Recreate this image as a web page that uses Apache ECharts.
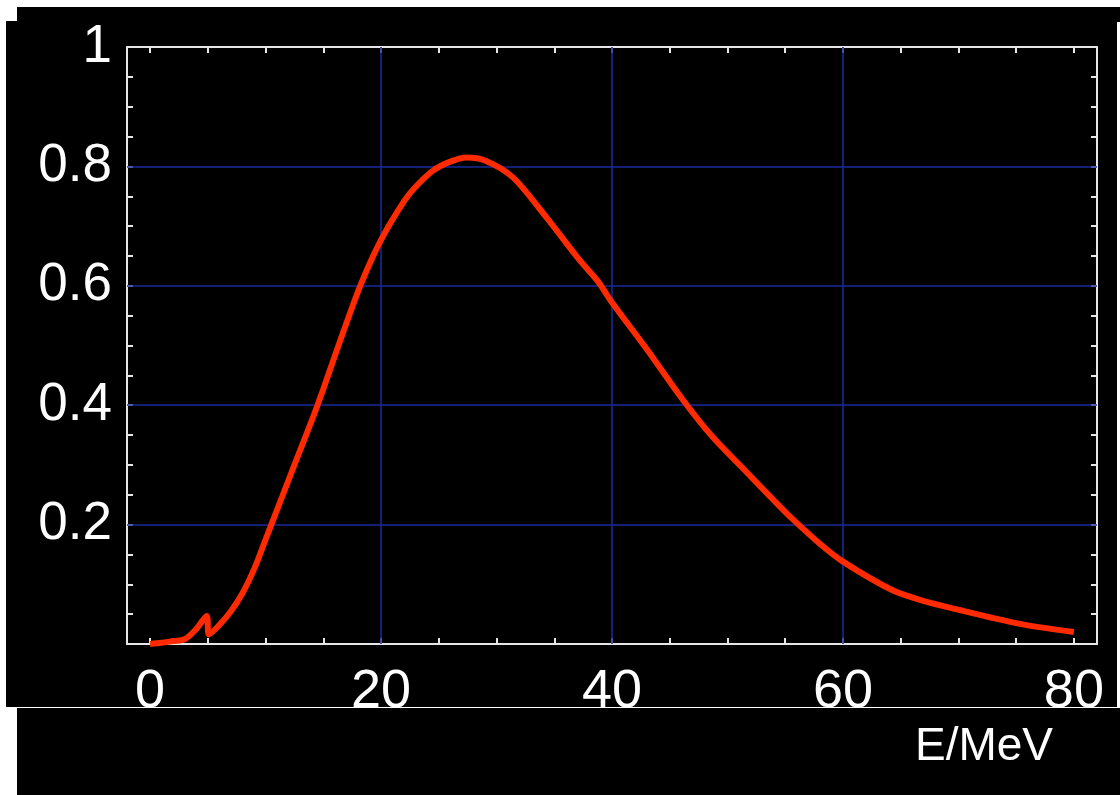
<!DOCTYPE html>
<html>
<head>
<meta charset="utf-8">
<script src="https://cdn.jsdelivr.net/npm/echarts@6/dist/echarts.min.js"></script>
<style>
html,body{margin:0;padding:0;background:#fff;}
#c{width:1120px;height:795px;}
</style>
</head>
<body>
<div id="c"></div>
<script>
// Data
var energy = [0, 1, 2, 3, 4, 4.9, 5.1, 6, 7, 8, 9, 10, 10.5, 12.5, 14.5, 16.5, 18.2, 20, 22, 23, 24.5, 26, 27.4, 29, 31.4, 34.3, 37.2, 38.8, 40, 43, 46.1, 48.7, 51.6, 54.5, 55.6, 58, 60, 64.3, 67.2, 70.1, 72.9, 75.8, 80];
var flux = [0, 0.002, 0.005, 0.008, 0.025, 0.047, 0.016, 0.032, 0.055, 0.085, 0.125, 0.175, 0.2, 0.3, 0.4, 0.51, 0.6, 0.677, 0.742, 0.766, 0.793, 0.808, 0.815, 0.81, 0.782, 0.715, 0.643, 0.607, 0.572, 0.494, 0.41, 0.347, 0.289, 0.231, 0.21, 0.168, 0.138, 0.09, 0.071, 0.057, 0.044, 0.032, 0.02];
var xTickValues = [0, 5, 10, 15, 20, 25, 30, 35, 40, 45, 50, 55, 60, 65, 70, 75, 80];
var xLabelValues = [0, 20, 40, 60, 80];
var yLabelValues = [0.2, 0.4, 0.6, 0.8, 1];
var xGridValues = [20, 40, 60];
var yGridValues = [0.2, 0.4, 0.6, 0.8];
var xTitle = 'E/MeV';

var FONT = '"Liberation Sans", Arial, sans-serif';
var frameColor = '#e6e6e6';
var gridColor = '#1a2a98';

var chart = echarts.init(document.getElementById('c'), null, {renderer: 'canvas'});

var pairs = energy.map(function (e, i) { return [e, flux[i]]; });

var markData = [];
xGridValues.forEach(function (v) { markData.push({xAxis: v}); });
yGridValues.forEach(function (v) { markData.push({yAxis: v}); });

function xAxisBase(pos, showLabel) {
  return {
    type: 'value', position: pos, min: -2, max: 82,
    axisLine: {show: true, onZero: false, lineStyle: {color: frameColor, width: 2}},
    axisTick: {show: true, inside: true, length: 6, customValues: xTickValues, lineStyle: {color: frameColor, width: 2}},
    axisLabel: {show: showLabel, customValues: xLabelValues, color: '#fff', fontFamily: FONT, fontSize: 54, margin: 21},
    splitLine: {show: false}
  };
}
function yAxisBase(pos, showLabel) {
  return {
    type: 'value', position: pos, min: 0, max: 1, interval: 0.05,
    axisLine: {show: true, onZero: false, lineStyle: {color: frameColor, width: 2}},
    axisTick: {show: true, inside: true, length: 6, lineStyle: {color: frameColor, width: 2}},
    axisLabel: {show: showLabel, customValues: yLabelValues, color: '#fff', fontFamily: FONT, fontSize: 53, margin: 15,
      formatter: function (v) { return String(Math.round(v * 10) / 10); }},
    splitLine: {show: false}
  };
}

chart.setOption({
  backgroundColor: '#ffffff',
  animation: false,
  grid: {left: 127, right: 23, top: 47, bottom: 151, containLabel: false},
  xAxis: [xAxisBase('bottom', true), xAxisBase('top', false)],
  yAxis: [yAxisBase('left', true), yAxisBase('right', false)],
  graphic: {
    elements: [
      {type: 'rect', z: -100, shape: {x: 17, y: 7, width: 1103, height: 15}, style: {fill: '#000'}},
      {type: 'rect', z: -100, shape: {x: 6, y: 21, width: 1111, height: 686}, style: {fill: '#000'}},
      {type: 'rect', z: 100, shape: {x: 17, y: 708, width: 1103, height: 87}, style: {fill: '#000'}},
      {type: 'text', z: 101, left: 915, top: 724, style: {text: xTitle, fill: '#fff', font: '46px ' + FONT}}
    ]
  },
  series: [
    {
      type: 'line', data: [], xAxisIndex: 0, yAxisIndex: 0, z: 1, silent: true,
      markLine: {
        silent: true, symbol: ['none', 'none'], label: {show: false},
        lineStyle: {color: gridColor, width: 1.6, type: 'solid'},
        data: markData
      }
    },
    {
      type: 'line', data: pairs, xAxisIndex: 0, yAxisIndex: 0, z: 5,
      showSymbol: false, smooth: 0.3,
      lineStyle: {color: '#ff2a00', width: 6}
    }
  ]
});
</script>
</body>
</html>
